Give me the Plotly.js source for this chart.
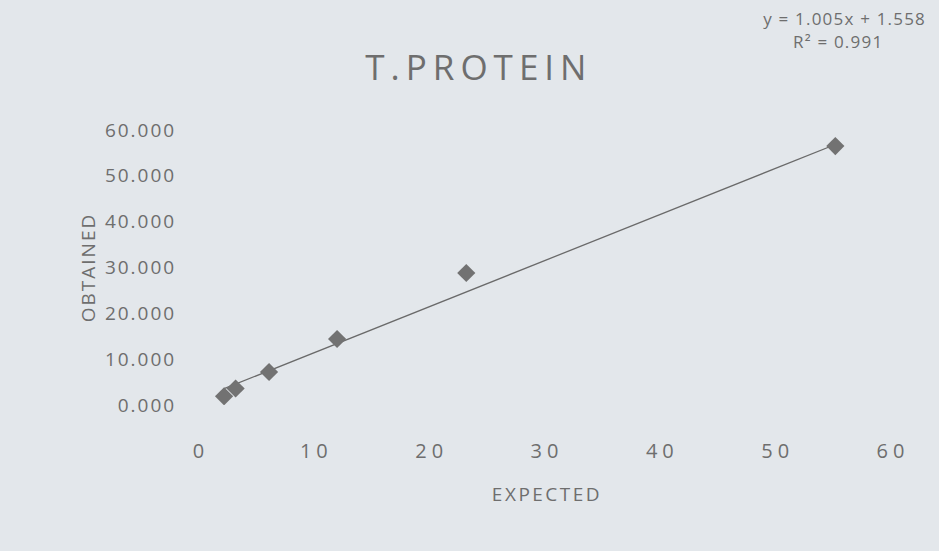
<!DOCTYPE html>
<html>
<head>
<meta charset="utf-8">
<script src="https://cdn.plot.ly/plotly-3.0.1.min.js"></script>
<style>
html,body{margin:0;padding:0;background:#e3e7eb;}
#chart{width:939px;height:551px;}
#chart .gtitle{letter-spacing:6px;}
#chart .xtick text{letter-spacing:5px;}
#chart .ytick text{letter-spacing:2px;}
#chart .xtitle{letter-spacing:2.5px;}
#chart .ytitle{letter-spacing:2px;}
#chart .annotation-text{letter-spacing:1.2px;}
</style>
</head>
<body>
<div id="chart"></div>
<script>
const chartTitle = "T.PROTEIN";
const xTitle = "EXPECTED";
const yTitle = "OBTAINED";
const expected = [2.0, 3.0, 5.9, 11.8, 23.0, 55.0];
const obtained = [1.9, 3.6, 7.2, 14.4, 28.8, 56.5];
const slope = 1.005;
const intercept = 1.558;
const rSquared = 0.991;
const xTickVals = [0, 10, 20, 30, 40, 50, 60];
const yTickVals = [0, 10, 20, 30, 40, 50, 60];

const xMin = Math.min(...expected), xMax = Math.max(...expected);
const trendX = [xMin, xMax];
const trendY = trendX.map(v => slope * v + intercept);

const font = "Open Sans, Lato, sans-serif";
const gray = "#6e6e6e";

const traces = [
  {x: trendX, y: trendY, mode: "lines", type: "scatter",
   line: {color: "#6a6a6a", width: 1.3}, hoverinfo: "skip"},
  {x: expected, y: obtained, mode: "markers", type: "scatter",
   marker: {symbol: "diamond", size: 14, color: "#727272"}}
];

const layout = {
  width: 939, height: 551,
  paper_bgcolor: "#e3e7eb", plot_bgcolor: "#e3e7eb",
  showlegend: false,
  margin: {l: 201, r: 46, t: 130, b: 146},
  title: {text: chartTitle, xref: "container", yref: "container", x: 0.51, y: 0.877,
          xanchor: "center", yanchor: "middle",
          font: {family: font, size: 35, color: gray}},
  xaxis: {range: [0, 60], tickvals: xTickVals, ticktext: xTickVals.map(String),
          showgrid: false, zeroline: false, showline: false,
          ticks: "outside", ticklen: 28, tickcolor: "rgba(0,0,0,0)",
          tickfont: {family: font, size: 20, color: gray},
          title: {text: xTitle, standoff: 24, font: {family: font, size: 19, color: gray}}},
  yaxis: {range: [0, 60], tickvals: yTickVals, ticktext: yTickVals.map(v => v.toFixed(3)),
          showgrid: false, zeroline: false, showline: false,
          ticks: "outside", ticklen: 20, tickcolor: "rgba(0,0,0,0)",
          tickfont: {family: font, size: 19, color: gray},
          title: {text: yTitle, standoff: 16, font: {family: font, size: 19, color: gray}}},
  annotations: [
    {text: "y = " + slope.toFixed(3) + "x + " + intercept.toFixed(3),
     xref: "paper", yref: "paper", x: 0.93, y: 1.407, xanchor: "center", yanchor: "middle",
     showarrow: false, font: {family: font, size: 17, color: gray}},
    {text: "R² = " + rSquared.toFixed(3),
     xref: "paper", yref: "paper", x: 0.92, y: 1.32, xanchor: "center", yanchor: "middle",
     showarrow: false, font: {family: font, size: 17, color: gray}}
  ]
};

Plotly.newPlot("chart", traces, layout, {displayModeBar: false});
</script>
</body>
</html>
